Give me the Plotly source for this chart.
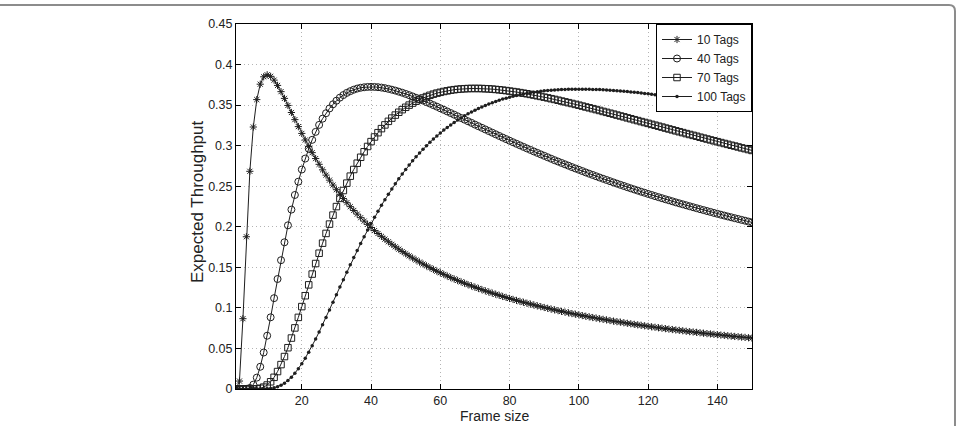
import plotly.graph_objects as go

# Frame sizes (x axis categories)
frame_size = list(range(1, 151))

tags_10 = [0, 0.0098, 0.0867, 0.1877, 0.2684, 0.3230, 0.3568, 0.3758, 0.3849, 0.3874,
 0.3855, 0.3808, 0.3743, 0.3666, 0.3583, 0.3496, 0.3409, 0.3321, 0.3235, 0.3151,
 0.3070, 0.2991, 0.2914, 0.2841, 0.2770, 0.2702, 0.2637, 0.2575, 0.2514, 0.2457,
 0.2401, 0.2348, 0.2297, 0.2248, 0.2201, 0.2156, 0.2112, 0.2070, 0.2030, 0.1991,
 0.1953, 0.1917, 0.1882, 0.1848, 0.1815, 0.1784, 0.1753, 0.1724, 0.1695, 0.1668,
 0.1641, 0.1615, 0.1590, 0.1565, 0.1541, 0.1518, 0.1496, 0.1474, 0.1453, 0.1433,
 0.1413, 0.1393, 0.1374, 0.1356, 0.1338, 0.1321, 0.1304, 0.1287, 0.1271, 0.1255,
 0.1240, 0.1225, 0.1210, 0.1196, 0.1182, 0.1168, 0.1155, 0.1141, 0.1129, 0.1116,
 0.1104, 0.1092, 0.1080, 0.1069, 0.1058, 0.1047, 0.1036, 0.1025, 0.1015, 0.1005,
 0.0995, 0.0985, 0.0976, 0.0966, 0.0957, 0.0948, 0.0939, 0.0930, 0.0922, 0.0914,
 0.0905, 0.0897, 0.0889, 0.0881, 0.0874, 0.0866, 0.0859, 0.0852, 0.0844, 0.0837,
 0.0830, 0.0824, 0.0817, 0.0810, 0.0804, 0.0797, 0.0791, 0.0785, 0.0779, 0.0773,
 0.0767, 0.0761, 0.0755, 0.0750, 0.0744, 0.0739, 0.0733, 0.0728, 0.0723, 0.0718,
 0.0712, 0.0707, 0.0703, 0.0698, 0.0693, 0.0688, 0.0683, 0.0679, 0.0674, 0.0670,
 0.0665, 0.0661, 0.0657, 0.0652, 0.0648, 0.0644, 0.0640, 0.0636, 0.0632, 0.0628]

tags_40 = [0, 0, 0, 0.0001, 0.0013, 0.0054, 0.0140, 0.0274, 0.0450, 0.0657,
 0.0884, 0.1120, 0.1356, 0.1588, 0.1809, 0.2018, 0.2212, 0.2392, 0.2556, 0.2706,
 0.2841, 0.2963, 0.3072, 0.3170, 0.3256, 0.3333, 0.3400, 0.3459, 0.3510, 0.3554,
 0.3592, 0.3624, 0.3651, 0.3672, 0.3690, 0.3704, 0.3714, 0.3720, 0.3724, 0.3725,
 0.3724, 0.3721, 0.3716, 0.3709, 0.3700, 0.3690, 0.3679, 0.3666, 0.3653, 0.3638,
 0.3623, 0.3607, 0.3590, 0.3573, 0.3556, 0.3537, 0.3519, 0.3500, 0.3481, 0.3461,
 0.3442, 0.3422, 0.3402, 0.3382, 0.3362, 0.3341, 0.3321, 0.3301, 0.3281, 0.3260,
 0.3240, 0.3220, 0.3200, 0.3180, 0.3160, 0.3140, 0.3120, 0.3100, 0.3081, 0.3061,
 0.3042, 0.3023, 0.3004, 0.2985, 0.2966, 0.2948, 0.2929, 0.2911, 0.2893, 0.2875,
 0.2857, 0.2839, 0.2821, 0.2804, 0.2787, 0.2770, 0.2753, 0.2736, 0.2719, 0.2703,
 0.2687, 0.2670, 0.2654, 0.2639, 0.2623, 0.2607, 0.2592, 0.2577, 0.2562, 0.2547,
 0.2532, 0.2517, 0.2503, 0.2488, 0.2474, 0.2460, 0.2446, 0.2432, 0.2419, 0.2405,
 0.2392, 0.2378, 0.2365, 0.2352, 0.2339, 0.2327, 0.2314, 0.2301, 0.2289, 0.2277,
 0.2265, 0.2253, 0.2241, 0.2229, 0.2217, 0.2206, 0.2194, 0.2183, 0.2171, 0.2160,
 0.2149, 0.2138, 0.2127, 0.2117, 0.2106, 0.2096, 0.2085, 0.2075, 0.2064, 0.2054]

tags_70 = [0, 0, 0, 0, 0, 0.0000, 0.0002, 0.0009, 0.0023, 0.0049,
 0.0089, 0.0144, 0.0215, 0.0301, 0.0400, 0.0509, 0.0628, 0.0753, 0.0883, 0.1016,
 0.1150, 0.1284, 0.1417, 0.1547, 0.1674, 0.1798, 0.1918, 0.2033, 0.2144, 0.2249,
 0.2350, 0.2447, 0.2538, 0.2624, 0.2706, 0.2784, 0.2857, 0.2925, 0.2990, 0.3050,
 0.3107, 0.3160, 0.3210, 0.3256, 0.3300, 0.3340, 0.3377, 0.3412, 0.3444, 0.3473,
 0.3500, 0.3525, 0.3548, 0.3569, 0.3588, 0.3605, 0.3621, 0.3635, 0.3648, 0.3658,
 0.3668, 0.3676, 0.3684, 0.3690, 0.3695, 0.3699, 0.3702, 0.3704, 0.3705, 0.3705,
 0.3705, 0.3704, 0.3702, 0.3700, 0.3697, 0.3693, 0.3689, 0.3684, 0.3679, 0.3673,
 0.3667, 0.3661, 0.3654, 0.3647, 0.3640, 0.3632, 0.3624, 0.3615, 0.3607, 0.3598,
 0.3589, 0.3579, 0.3570, 0.3560, 0.3550, 0.3540, 0.3530, 0.3520, 0.3509, 0.3499,
 0.3488, 0.3477, 0.3467, 0.3456, 0.3445, 0.3434, 0.3422, 0.3411, 0.3400, 0.3389,
 0.3377, 0.3366, 0.3355, 0.3343, 0.3332, 0.3320, 0.3309, 0.3297, 0.3286, 0.3275,
 0.3263, 0.3252, 0.3240, 0.3229, 0.3217, 0.3206, 0.3195, 0.3183, 0.3172, 0.3161,
 0.3149, 0.3138, 0.3127, 0.3116, 0.3104, 0.3093, 0.3082, 0.3071, 0.3060, 0.3049,
 0.3038, 0.3027, 0.3016, 0.3005, 0.2995, 0.2984, 0.2973, 0.2963, 0.2952, 0.2941]

tags_100 = [0, 0, 0, 0, 0, 0, 0, 0.0000, 0.0001, 0.0003,
 0.0007, 0.0015, 0.0028, 0.0047, 0.0072, 0.0105, 0.0146, 0.0194, 0.0249, 0.0312,
 0.0380, 0.0454, 0.0533, 0.0616, 0.0703, 0.0792, 0.0883, 0.0975, 0.1069, 0.1162,
 0.1256, 0.1348, 0.1440, 0.1531, 0.1620, 0.1708, 0.1794, 0.1878, 0.1959, 0.2039,
 0.2116, 0.2191, 0.2264, 0.2334, 0.2402, 0.2467, 0.2531, 0.2592, 0.2650, 0.2707,
 0.2761, 0.2813, 0.2863, 0.2910, 0.2956, 0.3000, 0.3042, 0.3082, 0.3120, 0.3157,
 0.3192, 0.3225, 0.3256, 0.3286, 0.3315, 0.3342, 0.3368, 0.3392, 0.3416, 0.3438,
 0.3458, 0.3478, 0.3496, 0.3514, 0.3530, 0.3546, 0.3560, 0.3574, 0.3586, 0.3598,
 0.3609, 0.3619, 0.3629, 0.3638, 0.3645, 0.3653, 0.3659, 0.3666, 0.3671, 0.3676,
 0.3680, 0.3684, 0.3687, 0.3690, 0.3692, 0.3694, 0.3696, 0.3697, 0.3697, 0.3697,
 0.3697, 0.3697, 0.3696, 0.3694, 0.3693, 0.3691, 0.3689, 0.3687, 0.3684, 0.3681,
 0.3678, 0.3674, 0.3671, 0.3667, 0.3663, 0.3658, 0.3654, 0.3649, 0.3644, 0.3639,
 0.3634, 0.3629, 0.3623, 0.3618, 0.3612, 0.3606, 0.3600, 0.3594, 0.3588, 0.3581,
 0.3575, 0.3568, 0.3562, 0.3555, 0.3548, 0.3541, 0.3534, 0.3527, 0.3520, 0.3513,
 0.3506, 0.3498, 0.3491, 0.3484, 0.3476, 0.3469, 0.3461, 0.3453, 0.3446, 0.3438]

x_ticks = [20, 40, 60, 80, 100, 120, 140]
y_ticks = [0, 0.05, 0.1, 0.15, 0.2, 0.25, 0.3, 0.35, 0.4, 0.45]
y_tick_labels = ["0", "0.05", "0.1", "0.15", "0.2", "0.25", "0.3", "0.35", "0.4", "0.45"]

INK = "#1e1e1e"
FONT = "Liberation Sans, Arial, Helvetica, sans-serif"

series = [
    ("10 Tags", tags_10, dict(symbol="asterisk-open", size=6, line=dict(color=INK, width=1))),
    ("40 Tags", tags_40, dict(symbol="circle-open", size=7, line=dict(color=INK, width=1))),
    ("70 Tags", tags_70, dict(symbol="square-open", size=6.5, line=dict(color=INK, width=1))),
    ("100 Tags", tags_100, dict(symbol="circle", size=3.5, color=INK, line=dict(width=0))),
]

fig = go.Figure()
for name, vals, mk in series:
    if "color" not in mk:
        mk["color"] = INK
    fig.add_trace(go.Scatter(
        x=frame_size, y=vals, name=name, mode="lines+markers",
        line=dict(color=INK, width=1), marker=mk,
    ))

axis_common = dict(
    showline=True, linecolor="black", linewidth=1, mirror="ticks",
    ticks="inside", ticklen=5, tickcolor="black", tickwidth=1,
    showgrid=True, gridcolor="#b4b4b4", griddash="1px,3px", gridwidth=1,
    zeroline=False, tickfont=dict(family=FONT, size=12.5, color="#222"),
)

fig.update_xaxes(range=[1, 150], tickvals=x_ticks, **axis_common)
fig.update_yaxes(range=[0, 0.45], tickvals=y_ticks, ticktext=y_tick_labels, **axis_common)

# outer page frame (grey line with rounded top-right corner)
W, H = 958, 426
L, R, T, B = 236, 206, 24, 37
pw, ph = W - L - R, H - T - B


def px(xp):
    return (xp - L) / pw


def py(yp):
    return (H - B - yp) / ph


frame_path = (f"M {px(-2):.4f},{py(5):.4f} L {px(949):.4f},{py(5):.4f} "
              f"Q {px(955):.4f},{py(5):.4f} {px(955):.4f},{py(11):.4f} "
              f"L {px(955):.4f},{py(432):.4f}")

fig.update_layout(
    width=W, height=H,
    margin=dict(l=L, r=R, t=T, b=B, pad=0),
    paper_bgcolor="white", plot_bgcolor="white",
    font=dict(family=FONT, color="#222"),
    showlegend=True,
    legend=dict(
        x=1, y=1, xanchor="right", yanchor="top",
        bgcolor="white", bordercolor="black", borderwidth=1,
        font=dict(family=FONT, size=12, color="#222"),
        itemwidth=30,
    ),
    shapes=[dict(type="path", path=frame_path, xref="paper", yref="paper",
                 line=dict(color="#8c8c8c", width=2), layer="above")],
    annotations=[
        dict(text="Frame size", xref="paper", yref="paper",
             x=px(494), y=py(416), showarrow=False,
             font=dict(family=FONT, size=14, color="#222"),
             xanchor="center", yanchor="middle"),
        dict(text="Expected Throughput", xref="paper", yref="paper",
             x=px(197), y=py(202), showarrow=False, textangle=-90,
             font=dict(family=FONT, size=17, color="#222"),
             xanchor="center", yanchor="middle"),
    ],
)

fig.write_html("out.html")
